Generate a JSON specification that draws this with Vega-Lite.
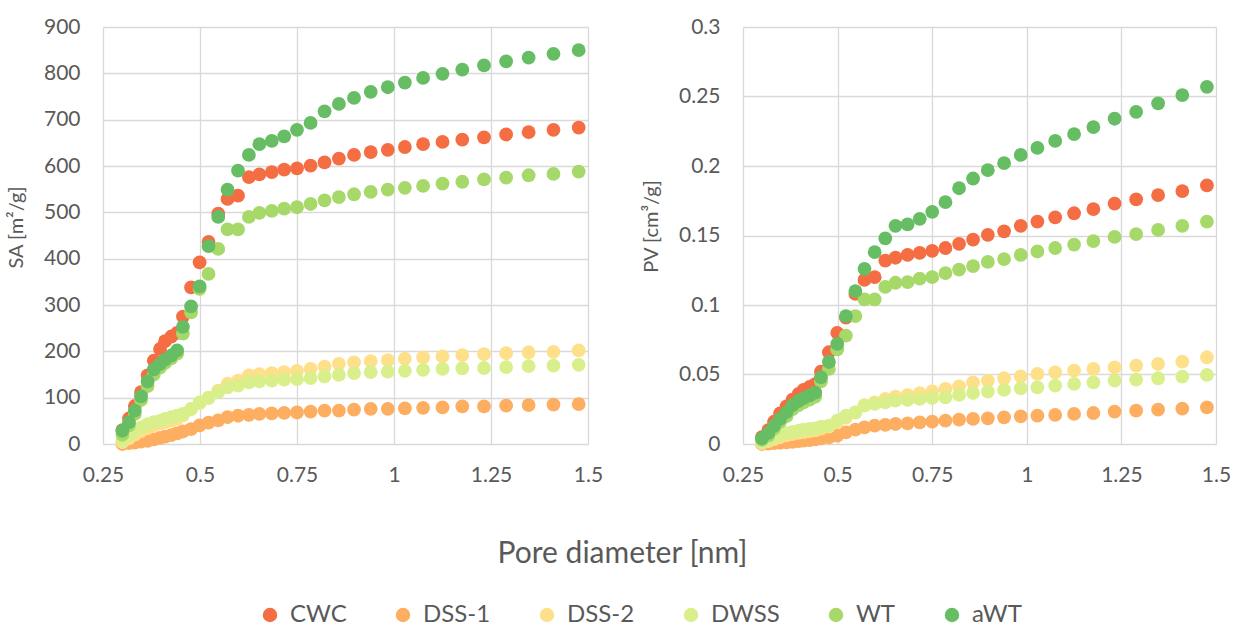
{
  "$schema": "https://vega.github.io/schema/vega-lite/v6.json",
  "padding": {"left": 6, "top": 16, "right": 29, "bottom": 0},
  "bounds": "flush",
  "spacing": 155,
  "datasets": {
    "pts": [
      {"s":"CWC","d":0.300,"SA":30,"PV":0.005},{"s":"CWC","d":0.317,"SA":55,"PV":0.010},{"s":"CWC","d":0.332,"SA":82,"PV":0.016},{"s":"CWC","d":0.348,"SA":112,"PV":0.022},{"s":"CWC","d":0.365,"SA":148,"PV":0.027},{"s":"CWC","d":0.381,"SA":180,"PV":0.032},{"s":"CWC","d":0.397,"SA":205,"PV":0.036},{"s":"CWC","d":0.410,"SA":222,"PV":0.039},{"s":"CWC","d":0.426,"SA":232,"PV":0.041},{"s":"CWC","d":0.441,"SA":240,"PV":0.043},{"s":"CWC","d":0.456,"SA":275,"PV":0.052},{"s":"CWC","d":0.477,"SA":338,"PV":0.066},{"s":"CWC","d":0.499,"SA":392,"PV":0.080},{"s":"CWC","d":0.522,"SA":436,"PV":0.091},{"s":"CWC","d":0.547,"SA":497,"PV":0.108},{"s":"CWC","d":0.571,"SA":529,"PV":0.118},{"s":"CWC","d":0.598,"SA":536,"PV":0.120},{"s":"CWC","d":0.626,"SA":576,"PV":0.132},{"s":"CWC","d":0.653,"SA":582,"PV":0.134},{"s":"CWC","d":0.685,"SA":587,"PV":0.136},{"s":"CWC","d":0.717,"SA":592,"PV":0.1375},{"s":"CWC","d":0.750,"SA":595,"PV":0.139},{"s":"CWC","d":0.785,"SA":601,"PV":0.141},{"s":"CWC","d":0.821,"SA":608,"PV":0.144},{"s":"CWC","d":0.858,"SA":616,"PV":0.147},{"s":"CWC","d":0.897,"SA":624,"PV":0.1505},{"s":"CWC","d":0.940,"SA":630,"PV":0.153},{"s":"CWC","d":0.984,"SA":635,"PV":0.157},{"s":"CWC","d":1.028,"SA":641,"PV":0.160},{"s":"CWC","d":1.075,"SA":647,"PV":0.163},{"s":"CWC","d":1.125,"SA":652,"PV":0.166},{"s":"CWC","d":1.176,"SA":657,"PV":0.169},{"s":"CWC","d":1.232,"SA":662,"PV":0.173},{"s":"CWC","d":1.289,"SA":668,"PV":0.176},{"s":"CWC","d":1.347,"SA":673,"PV":0.179},{"s":"CWC","d":1.411,"SA":678,"PV":0.182},{"s":"CWC","d":1.476,"SA":683,"PV":0.186},

      {"s":"DSS-1","d":0.300,"SA":0,"PV":0.000},{"s":"DSS-1","d":0.317,"SA":2,"PV":0.0003},{"s":"DSS-1","d":0.332,"SA":3,"PV":0.0006},{"s":"DSS-1","d":0.348,"SA":5,"PV":0.0009},{"s":"DSS-1","d":0.365,"SA":7,"PV":0.0012},{"s":"DSS-1","d":0.381,"SA":10,"PV":0.0016},{"s":"DSS-1","d":0.397,"SA":13,"PV":0.002},{"s":"DSS-1","d":0.410,"SA":16,"PV":0.0024},{"s":"DSS-1","d":0.426,"SA":19,"PV":0.0028},{"s":"DSS-1","d":0.441,"SA":23,"PV":0.0033},{"s":"DSS-1","d":0.456,"SA":27,"PV":0.0041},{"s":"DSS-1","d":0.477,"SA":32,"PV":0.0048},{"s":"DSS-1","d":0.499,"SA":40,"PV":0.006},{"s":"DSS-1","d":0.522,"SA":46,"PV":0.0084},{"s":"DSS-1","d":0.547,"SA":51,"PV":0.0103},{"s":"DSS-1","d":0.571,"SA":58,"PV":0.012},{"s":"DSS-1","d":0.598,"SA":61,"PV":0.0132},{"s":"DSS-1","d":0.626,"SA":63,"PV":0.0137},{"s":"DSS-1","d":0.653,"SA":65,"PV":0.0144},{"s":"DSS-1","d":0.685,"SA":66,"PV":0.0149},{"s":"DSS-1","d":0.717,"SA":67,"PV":0.0156},{"s":"DSS-1","d":0.750,"SA":68,"PV":0.0161},{"s":"DSS-1","d":0.785,"SA":70,"PV":0.0168},{"s":"DSS-1","d":0.821,"SA":72,"PV":0.0175},{"s":"DSS-1","d":0.858,"SA":72,"PV":0.018},{"s":"DSS-1","d":0.897,"SA":74,"PV":0.0185},{"s":"DSS-1","d":0.940,"SA":76,"PV":0.0192},{"s":"DSS-1","d":0.984,"SA":76,"PV":0.0199},{"s":"DSS-1","d":1.028,"SA":77,"PV":0.0204},{"s":"DSS-1","d":1.075,"SA":78,"PV":0.0209},{"s":"DSS-1","d":1.125,"SA":79,"PV":0.0216},{"s":"DSS-1","d":1.176,"SA":81,"PV":0.0223},{"s":"DSS-1","d":1.232,"SA":81,"PV":0.0233},{"s":"DSS-1","d":1.289,"SA":83,"PV":0.024},{"s":"DSS-1","d":1.347,"SA":84,"PV":0.0247},{"s":"DSS-1","d":1.411,"SA":85,"PV":0.0255},{"s":"DSS-1","d":1.476,"SA":86,"PV":0.0264},

      {"s":"DSS-2","d":0.300,"SA":4,"PV":0.0008},{"s":"DSS-2","d":0.317,"SA":12,"PV":0.002},{"s":"DSS-2","d":0.332,"SA":20,"PV":0.0035},{"s":"DSS-2","d":0.348,"SA":28,"PV":0.005},{"s":"DSS-2","d":0.365,"SA":34,"PV":0.0062},{"s":"DSS-2","d":0.381,"SA":40,"PV":0.0072},{"s":"DSS-2","d":0.397,"SA":44,"PV":0.008},{"s":"DSS-2","d":0.410,"SA":47,"PV":0.0086},{"s":"DSS-2","d":0.426,"SA":50,"PV":0.0092},{"s":"DSS-2","d":0.441,"SA":55,"PV":0.0098},{"s":"DSS-2","d":0.456,"SA":62,"PV":0.011},{"s":"DSS-2","d":0.477,"SA":75,"PV":0.0125},{"s":"DSS-2","d":0.499,"SA":88,"PV":0.0155},{"s":"DSS-2","d":0.522,"SA":100,"PV":0.019},{"s":"DSS-2","d":0.547,"SA":115,"PV":0.0225},{"s":"DSS-2","d":0.571,"SA":130,"PV":0.028},{"s":"DSS-2","d":0.598,"SA":137,"PV":0.030},{"s":"DSS-2","d":0.626,"SA":148,"PV":0.0324},{"s":"DSS-2","d":0.653,"SA":151,"PV":0.034},{"s":"DSS-2","d":0.685,"SA":153,"PV":0.0352},{"s":"DSS-2","d":0.717,"SA":155,"PV":0.0365},{"s":"DSS-2","d":0.750,"SA":158,"PV":0.0378},{"s":"DSS-2","d":0.785,"SA":162,"PV":0.0396},{"s":"DSS-2","d":0.821,"SA":167,"PV":0.0415},{"s":"DSS-2","d":0.858,"SA":173,"PV":0.0444},{"s":"DSS-2","d":0.897,"SA":176,"PV":0.0456},{"s":"DSS-2","d":0.940,"SA":179,"PV":0.0473},{"s":"DSS-2","d":0.984,"SA":181,"PV":0.0487},{"s":"DSS-2","d":1.028,"SA":184,"PV":0.0504},{"s":"DSS-2","d":1.075,"SA":187,"PV":0.0516},{"s":"DSS-2","d":1.125,"SA":189,"PV":0.0528},{"s":"DSS-2","d":1.176,"SA":192,"PV":0.054},{"s":"DSS-2","d":1.232,"SA":194,"PV":0.0552},{"s":"DSS-2","d":1.289,"SA":196,"PV":0.0564},{"s":"DSS-2","d":1.347,"SA":198,"PV":0.0576},{"s":"DSS-2","d":1.411,"SA":199,"PV":0.0593},{"s":"DSS-2","d":1.476,"SA":202,"PV":0.0624},

      {"s":"DWSS","d":0.300,"SA":7,"PV":0.001},{"s":"DWSS","d":0.317,"SA":18,"PV":0.003},{"s":"DWSS","d":0.332,"SA":29,"PV":0.0048},{"s":"DWSS","d":0.348,"SA":36,"PV":0.0065},{"s":"DWSS","d":0.365,"SA":43,"PV":0.0079},{"s":"DWSS","d":0.381,"SA":47,"PV":0.0088},{"s":"DWSS","d":0.397,"SA":50,"PV":0.0096},{"s":"DWSS","d":0.410,"SA":54,"PV":0.0103},{"s":"DWSS","d":0.426,"SA":58,"PV":0.0108},{"s":"DWSS","d":0.441,"SA":61,"PV":0.0113},{"s":"DWSS","d":0.456,"SA":65,"PV":0.0125},{"s":"DWSS","d":0.477,"SA":76,"PV":0.0132},{"s":"DWSS","d":0.499,"SA":90,"PV":0.0168},{"s":"DWSS","d":0.522,"SA":99,"PV":0.0204},{"s":"DWSS","d":0.547,"SA":112,"PV":0.0228},{"s":"DWSS","d":0.571,"SA":122,"PV":0.0276},{"s":"DWSS","d":0.598,"SA":126,"PV":0.0288},{"s":"DWSS","d":0.626,"SA":133,"PV":0.030},{"s":"DWSS","d":0.653,"SA":135,"PV":0.0312},{"s":"DWSS","d":0.685,"SA":137,"PV":0.0317},{"s":"DWSS","d":0.717,"SA":139,"PV":0.0324},{"s":"DWSS","d":0.750,"SA":140,"PV":0.0331},{"s":"DWSS","d":0.785,"SA":142,"PV":0.0336},{"s":"DWSS","d":0.821,"SA":146,"PV":0.0353},{"s":"DWSS","d":0.858,"SA":149,"PV":0.0367},{"s":"DWSS","d":0.897,"SA":153,"PV":0.0377},{"s":"DWSS","d":0.940,"SA":155,"PV":0.0389},{"s":"DWSS","d":0.984,"SA":156,"PV":0.0401},{"s":"DWSS","d":1.028,"SA":158,"PV":0.0408},{"s":"DWSS","d":1.075,"SA":160,"PV":0.042},{"s":"DWSS","d":1.125,"SA":162,"PV":0.0432},{"s":"DWSS","d":1.176,"SA":163,"PV":0.0444},{"s":"DWSS","d":1.232,"SA":164,"PV":0.0456},{"s":"DWSS","d":1.289,"SA":166,"PV":0.0463},{"s":"DWSS","d":1.347,"SA":168,"PV":0.0473},{"s":"DWSS","d":1.411,"SA":169,"PV":0.0485},{"s":"DWSS","d":1.476,"SA":171,"PV":0.0497},

      {"s":"WT","d":0.300,"SA":20,"PV":0.003},{"s":"WT","d":0.317,"SA":40,"PV":0.006},{"s":"WT","d":0.332,"SA":65,"PV":0.011},{"s":"WT","d":0.348,"SA":95,"PV":0.016},{"s":"WT","d":0.365,"SA":125,"PV":0.020},{"s":"WT","d":0.381,"SA":150,"PV":0.025},{"s":"WT","d":0.397,"SA":165,"PV":0.028},{"s":"WT","d":0.410,"SA":175,"PV":0.030},{"s":"WT","d":0.426,"SA":185,"PV":0.032},{"s":"WT","d":0.441,"SA":195,"PV":0.034},{"s":"WT","d":0.456,"SA":238,"PV":0.045},{"s":"WT","d":0.477,"SA":284,"PV":0.054},{"s":"WT","d":0.499,"SA":335,"PV":0.068},{"s":"WT","d":0.522,"SA":367,"PV":0.078},{"s":"WT","d":0.547,"SA":421,"PV":0.092},{"s":"WT","d":0.571,"SA":463,"PV":0.104},{"s":"WT","d":0.598,"SA":463,"PV":0.104},{"s":"WT","d":0.626,"SA":490,"PV":0.113},{"s":"WT","d":0.653,"SA":499,"PV":0.116},{"s":"WT","d":0.685,"SA":503,"PV":0.1164},{"s":"WT","d":0.717,"SA":508,"PV":0.119},{"s":"WT","d":0.750,"SA":511,"PV":0.120},{"s":"WT","d":0.785,"SA":518,"PV":0.123},{"s":"WT","d":0.821,"SA":526,"PV":0.1255},{"s":"WT","d":0.858,"SA":533,"PV":0.128},{"s":"WT","d":0.897,"SA":539,"PV":0.131},{"s":"WT","d":0.940,"SA":544,"PV":0.133},{"s":"WT","d":0.984,"SA":549,"PV":0.136},{"s":"WT","d":1.028,"SA":553,"PV":0.1385},{"s":"WT","d":1.075,"SA":557,"PV":0.141},{"s":"WT","d":1.125,"SA":562,"PV":0.1435},{"s":"WT","d":1.176,"SA":566,"PV":0.146},{"s":"WT","d":1.232,"SA":571,"PV":0.149},{"s":"WT","d":1.289,"SA":575,"PV":0.151},{"s":"WT","d":1.347,"SA":580,"PV":0.154},{"s":"WT","d":1.411,"SA":583,"PV":0.157},{"s":"WT","d":1.476,"SA":588,"PV":0.160},

      {"s":"aWT","d":0.300,"SA":29,"PV":0.004},{"s":"aWT","d":0.317,"SA":47,"PV":0.008},{"s":"aWT","d":0.332,"SA":72,"PV":0.013},{"s":"aWT","d":0.348,"SA":103,"PV":0.018},{"s":"aWT","d":0.365,"SA":135,"PV":0.023},{"s":"aWT","d":0.381,"SA":161,"PV":0.028},{"s":"aWT","d":0.397,"SA":173,"PV":0.031},{"s":"aWT","d":0.410,"SA":182,"PV":0.033},{"s":"aWT","d":0.426,"SA":191,"PV":0.035},{"s":"aWT","d":0.441,"SA":202,"PV":0.037},{"s":"aWT","d":0.456,"SA":253,"PV":0.048},{"s":"aWT","d":0.477,"SA":297,"PV":0.059},{"s":"aWT","d":0.499,"SA":340,"PV":0.072},{"s":"aWT","d":0.522,"SA":427,"PV":0.092},{"s":"aWT","d":0.547,"SA":490,"PV":0.110},{"s":"aWT","d":0.571,"SA":549,"PV":0.126},{"s":"aWT","d":0.598,"SA":590,"PV":0.138},{"s":"aWT","d":0.626,"SA":624,"PV":0.148},{"s":"aWT","d":0.653,"SA":647,"PV":0.157},{"s":"aWT","d":0.685,"SA":654,"PV":0.158},{"s":"aWT","d":0.717,"SA":664,"PV":0.162},{"s":"aWT","d":0.750,"SA":678,"PV":0.167},{"s":"aWT","d":0.785,"SA":693,"PV":0.174},{"s":"aWT","d":0.821,"SA":718,"PV":0.184},{"s":"aWT","d":0.858,"SA":734,"PV":0.191},{"s":"aWT","d":0.897,"SA":747,"PV":0.197},{"s":"aWT","d":0.940,"SA":760,"PV":0.202},{"s":"aWT","d":0.984,"SA":770,"PV":0.208},{"s":"aWT","d":1.028,"SA":780,"PV":0.213},{"s":"aWT","d":1.075,"SA":790,"PV":0.218},{"s":"aWT","d":1.125,"SA":799,"PV":0.223},{"s":"aWT","d":1.176,"SA":808,"PV":0.228},{"s":"aWT","d":1.232,"SA":817,"PV":0.234},{"s":"aWT","d":1.289,"SA":826,"PV":0.239},{"s":"aWT","d":1.347,"SA":834,"PV":0.245},{"s":"aWT","d":1.411,"SA":842,"PV":0.251},{"s":"aWT","d":1.476,"SA":850,"PV":0.257}
    ]
  },
  "hconcat": [
    {
      "width": 485,
      "height": 417,
      "data": {"name": "pts"},
      "mark": {"type": "circle", "size": 190, "opacity": 1},
      "encoding": {
        "x": {"field": "d", "type": "quantitative", "scale": {"domain": [0.25, 1.5], "nice": false, "zero": false},
              "axis": {"values": [0.25, 0.5, 0.75, 1, 1.25, 1.5], "format": ".3~g", "title": "Pore diameter [nm]", "titleX": 519, "titleY": 109, "titleAnchor": "middle", "titleBaseline": "middle", "titleFontSize": 30, "titleAlign": "center"}},
        "y": {"field": "SA", "type": "quantitative", "scale": {"domain": [0, 900], "nice": false},
              "axis": {"values": [0,100,200,300,400,500,600,700,800,900], "title": "SA [m²/g]", "titleY": 200}},
        "color": {"field": "s", "type": "nominal", "sort": null,
                  "scale": {"domain": ["CWC","DSS-1","DSS-2","DWSS","WT","aWT"], "range": ["#f46d43","#fdae61","#fee08b","#d9ef8b","#a6d96a","#66bd63"]},
                  "legend": {"title": null, "orient": "none", "direction": "horizontal", "legendX": 155, "legendY": 576}}
      }
    },
    {
      "width": 473,
      "height": 417,
      "data": {"name": "pts"},
      "mark": {"type": "circle", "size": 190, "opacity": 1},
      "encoding": {
        "x": {"field": "d", "type": "quantitative", "scale": {"domain": [0.25, 1.5], "nice": false, "zero": false},
              "axis": {"values": [0.25, 0.5, 0.75, 1, 1.25, 1.5], "format": ".3~g", "title": null}},
        "y": {"field": "PV", "type": "quantitative", "scale": {"domain": [0, 0.3], "nice": false},
              "axis": {"values": [0,0.05,0.1,0.15,0.2,0.25,0.3], "format": ".3~g", "title": "PV [cm³/g]", "titleY": 199}},
        "color": {"field": "s", "type": "nominal", "sort": null,
                  "scale": {"domain": ["CWC","DSS-1","DSS-2","DWSS","WT","aWT"], "range": ["#f46d43","#fdae61","#fee08b","#d9ef8b","#a6d96a","#66bd63"]}}
      }
    }
  ],
  "resolve": {"scale": {"color": "shared"}},
  "config": {
    "font": "Lato",
    "view": {"stroke": null},
    "axis": {
      "grid": true, "gridColor": "#d9d9d9", "gridWidth": 1.3,
      "domain": false, "ticks": false,
      "labelFontSize": 21, "labelColor": "#595959", "labelFont": "Lato",
      "titleFontSize": 20, "titleColor": "#595959", "titleFont": "Lato", "titleFontWeight": "normal",
      "labelPadding": 10
    },
    "axisX": {"labelPadding": 20, "labelFlush": false},
    "axisY": {"labelPadding": 23, "titlePadding": 17},
    "legend": {
      "symbolType": "circle", "symbolSize": 210, "symbolOpacity": 1, "symbolStrokeWidth": 0,
      "labelFontSize": 24, "labelColor": "#595959", "labelFont": "Lato", "labelOffset": 8,
      "columnPadding": 44
    }
  }
}
